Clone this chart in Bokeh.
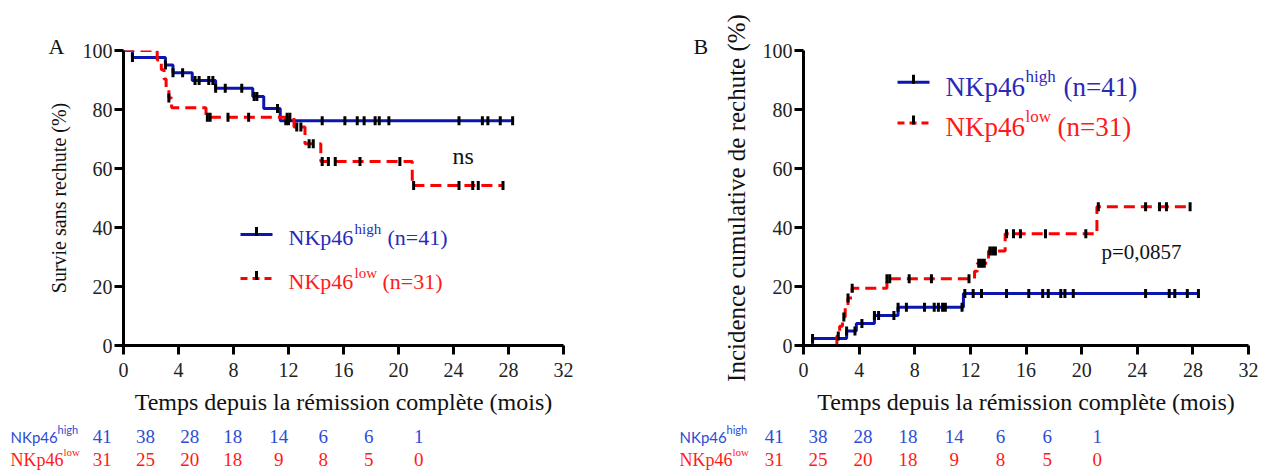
import numpy as np
from bokeh.plotting import figure
from bokeh.models import Range1d, FixedTicker, Label, Title
from bokeh.layouts import row, column
from bokeh.embed import file_html
from bokeh.resources import INLINE
from bokeh.core.properties import value

# ---------------- data ----------------
x_ticks = [0, 4, 8, 12, 16, 20, 24, 28, 32]
y_ticks = [0, 20, 40, 60, 80, 100]

# Panel A : relapse-free survival (%)
a_high_t = [0.65, 3.05, 3.6, 5.0, 6.7, 9.4, 10.2, 11.4]
a_high_v = [97.6, 95.1, 92.5, 89.8, 87.2, 84.4, 80.3, 76.2]
a_high_end = 28.3
a_high_cens = [0.65, 3.05, 3.6, 4.3, 5.2, 5.5, 6.2, 6.5, 6.7, 7.4, 8.6, 9.5, 9.7,
               11.2, 11.8, 12.0, 14.45, 16.1, 17.0, 17.5, 18.3, 18.6, 19.3,
               24.4, 26.1, 26.5, 27.4, 28.3]

a_low_t = [2.45, 2.75, 2.95, 3.1, 3.3, 3.5, 6.0, 12.4, 13.2, 14.35, 21.0]
a_low_v = [96.8, 93.5, 90.3, 87.1, 83.9, 80.6, 77.4, 74.1, 68.4, 62.4, 54.2]
a_low_end = 27.6
a_low_cens = [3.3, 6.1, 6.3, 7.6, 9.1, 11.9, 12.1, 12.6, 12.9, 13.5, 13.8,
              14.45, 14.9, 15.4, 17.2, 20.1, 21.1, 24.4, 25.4, 25.8, 27.6]

# Panel B : cumulative incidence of relapse (%)
b_high_t = [0.65, 3.1, 3.8, 5.1, 6.8, 11.5]
b_high_v = [2.4, 4.9, 7.5, 10.2, 13.0, 17.6]
b_high_end = 28.4
b_high_cens = [0.65, 3.1, 3.7, 4.2, 5.1, 5.4, 6.5, 6.8, 7.4, 8.7, 9.4, 9.7, 10.0,
               10.2, 11.4, 11.6, 12.2, 12.8, 14.6, 16.2, 17.2, 17.6, 18.5, 18.8,
               19.4, 24.6, 26.3, 26.7, 27.6, 28.4]

b_low_t = [2.4, 2.6, 2.8, 3.0, 3.2, 3.5, 6.0, 12.3, 12.5, 13.3, 14.5, 21.1]
b_low_v = [3.2, 6.5, 9.7, 12.9, 16.1, 19.4, 22.6, 25.2, 27.9, 32.0, 37.9, 47.0]
b_low_end = 27.8
b_low_cens = [2.5, 2.9, 3.2, 3.5, 6.0, 6.2, 7.6, 9.2, 11.9, 12.6, 12.8, 13.0,
              13.4, 13.6, 13.8, 14.6, 15.1, 15.6, 17.4, 20.3, 21.2, 24.6, 25.6,
              26.1, 27.8]

risk_high = [41, 38, 28, 18, 14, 6, 6, 1]
risk_low = [31, 25, 20, 18, 9, 8, 5, 0]

# ---------------- style ----------------
SERIF = "Liberation Serif"
BLUE = "#0b16b0"
RED = "#ff0000"
BLUE_TXT = "#2a2ab8"
RED_TXT = "#ff1a1a"
RISK_BLUE = "#2b4cd6"
DASH = "11 6"
PANEL_H = 418
TABLE_H = 53
TXT_DY = 7  # rendered text sits this many px lower than its anchor


def step_xy(t, v, start, end):
    xs = [0.0] + list(t) + [end]
    ys = [start] + list(v) + [v[-1]]
    return xs, ys


def cens_y(t, v, start, cens):
    tt = np.asarray(t)
    vals = np.asarray([start] + list(v))
    idx = np.searchsorted(tt, np.asarray(cens), side="right")
    return vals[idx]


def make_panel(width, left, right, top, bottom, ylabel, ylabel_size, xlabel_size,
               letter, letter_offset):
    p = figure(width=width, height=PANEL_H, x_range=Range1d(0, 32), y_range=Range1d(0, 100),
               output_backend="svg", toolbar_location=None,
               min_border_left=left, min_border_right=right,
               min_border_top=top, min_border_bottom=bottom)
    p.outline_line_color = None
    p.grid.visible = False
    p.background_fill_color = "white"
    p.border_fill_color = "white"
    p.xaxis.ticker = FixedTicker(ticks=x_ticks)
    p.yaxis.ticker = FixedTicker(ticks=y_ticks)
    for ax in (p.xaxis[0], p.yaxis[0]):
        ax.axis_line_width = 3
        ax.axis_line_color = "black"
        ax.major_tick_line_width = 3
        ax.major_tick_line_color = "black"
        ax.major_tick_out = 9
        ax.major_tick_in = 0
        ax.minor_tick_line_color = None
        ax.major_label_text_font = SERIF
        ax.major_label_text_font_size = "20px"
        ax.major_label_text_color = "#222222"
        ax.axis_label_text_font = SERIF
        ax.axis_label_text_font_style = "normal"
        ax.axis_label_text_color = "#111111"
    p.yaxis.major_label_standoff = 2
    p.xaxis.major_label_standoff = 8
    p.xaxis.axis_label = "Temps depuis la rémission complète (mois)"
    p.xaxis.axis_label_text_font_size = xlabel_size
    p.xaxis.axis_label_standoff = 9
    p.yaxis.axis_label = ylabel
    p.yaxis.axis_label_text_font_size = ylabel_size
    p.yaxis.axis_label_standoff = 10
    p.add_layout(Title(text=letter, align="left", offset=letter_offset,
                       vertical_align="bottom", standoff=-16,
                       text_font=SERIF, text_font_size="22px",
                       text_font_style="normal", text_color="#111111"), "above")
    return p


def draw_curve(p, t, v, start, end, cens, color, dash):
    xs, ys = step_xy(t, v, start, end)
    if dash:
        p.step(xs, ys, mode="after", line_width=3, line_color=color, line_dash=dash)
    else:
        p.step(xs, ys, mode="after", line_width=3, line_color=color)
    p.scatter(cens, cens_y(t, v, start, cens), marker="dash", angle=np.pi / 2,
              size=9, line_width=3, line_color="black")


def txt(p, conv, px, py, text, size, color, font=SERIF, align="left"):
    x, y = conv(px, py - TXT_DY)
    p.add_layout(Label(x=x, y=y, text=text, text_font=font, text_font_size=size,
                       text_color=color, text_align=align, text_baseline="alphabetic"))


def legend_sample(p, conv, x0, x1, py, color, dash):
    xa, ya = conv(x0, py)
    xb, _ = conv(x1, py)
    xm, _ = conv((x0 + x1) / 2.0, py)
    if dash:
        p.line([xa, xb], [ya, ya], line_width=3, line_color=color, line_dash="7 5")
    else:
        p.line([xa, xb], [ya, ya], line_width=3, line_color=color)
    _, yt = conv(0, py - 3)
    p.scatter([xm], [yt], marker="dash", angle=np.pi / 2, size=9, line_width=3,
              line_color="black")


def make_table(width, x0, lab_x, sup_hx, sup_lx, num_x):
    t = figure(width=width, height=TABLE_H, x_range=Range1d(x0, x0 + width),
               y_range=Range1d(PANEL_H + TABLE_H, PANEL_H), output_backend="svg",
               toolbar_location=None, x_axis_location=None, y_axis_location=None,
               min_border=0, min_border_left=0, min_border_right=0,
               min_border_top=0, min_border_bottom=0)
    t.outline_line_color = None
    t.grid.visible = False
    yb, yr = 443 - TXT_DY, 466 - TXT_DY
    t.text([lab_x], [yb], text=["NKp46"], text_font=value("Lato"), text_font_size="15px",
           text_color=RISK_BLUE, text_baseline="alphabetic")
    t.text([sup_hx], [yb - 7], text=["high"], text_font=value("Lato"), text_font_size="11px",
           text_color=RISK_BLUE, text_baseline="alphabetic")
    t.text([lab_x], [yr], text=["NKp46"], text_font=value(SERIF), text_font_size="18px",
           text_color=RED_TXT, text_baseline="alphabetic")
    t.text([sup_lx], [yr - 8], text=["low"], text_font=value(SERIF), text_font_size="11px",
           text_color=RED_TXT, text_baseline="alphabetic")
    t.text(num_x, [yb] * len(num_x), text=[str(n) for n in risk_high],
           text_font=value(SERIF), text_font_size="19px", text_color=RISK_BLUE,
           text_align="center", text_baseline="alphabetic")
    t.text(num_x, [yr] * len(num_x), text=[str(n) for n in risk_low],
           text_font=value(SERIF), text_font_size="19px", text_color=RED_TXT,
           text_align="center", text_baseline="alphabetic")
    return t


# ---------------- Panel A ----------------
A_L, A_KX, A_B, A_KY = 123.0, 440.0 / 32, 345.0, 295.0 / 100


def convA(px, py):
    return (px - A_L) / A_KX, (A_B - py) / A_KY


pA = make_panel(640, 123, 77, 50, PANEL_H - 345, "Survie sans rechute (%)", "20px", "24px",
                "A", -75)
draw_curve(pA, a_high_t, a_high_v, 100.0, a_high_end, a_high_cens, BLUE, None)
draw_curve(pA, a_low_t, a_low_v, 100.0, a_low_end, a_low_cens, RED, DASH)

txt(pA, convA, 452, 162, "ns", "24px", "#111111")

legend_sample(pA, convA, 240, 272, 234, BLUE, None)
legend_sample(pA, convA, 240, 272, 278, RED, DASH)
txt(pA, convA, 288, 244, "NKp46", "22px", BLUE_TXT)
txt(pA, convA, 354, 235, "high", "15px", BLUE_TXT)
txt(pA, convA, 387, 244, "(n=41)", "22px", BLUE_TXT)
txt(pA, convA, 288, 288, "NKp46", "22px", RED_TXT)
txt(pA, convA, 354, 279, "low", "15px", RED_TXT)
txt(pA, convA, 382, 288, "(n=31)", "22px", RED_TXT)

risk_x_A = [101.7, 145.0, 189.3, 232.3, 278.3, 322.7, 368.3, 418.3]
tA = make_table(640, 0, 10, 57, 63, risk_x_A)

# ---------------- Panel B ----------------
B_L, B_KX, B_B, B_KY = 803.0, 445.0 / 32, 345.0, 297.0 / 100


def convB(px, py):
    return (px - B_L) / B_KX, (B_B - py) / B_KY


pB = make_panel(634, 163, 26, 48, PANEL_H - 345, "Incidence cumulative de rechute (%)",
                "25px", "24px", "B", -110)
draw_curve(pB, b_high_t, b_high_v, 0.0, b_high_end, b_high_cens, BLUE, None)
draw_curve(pB, b_low_t, b_low_v, 0.0, b_low_end, b_low_cens, RED, DASH)

txt(pB, convB, 1101, 258, "p=0,0857", "21px", "#111111")

legend_sample(pB, convB, 897, 929, 80, BLUE, None)
legend_sample(pB, convB, 897, 929, 121, RED, DASH)
txt(pB, convB, 945, 92, "NKp46", "27px", BLUE_TXT)
txt(pB, convB, 1025, 81, "high", "17px", BLUE_TXT)
txt(pB, convB, 1063, 92, "(n=41)", "27px", BLUE_TXT)
txt(pB, convB, 945, 132, "NKp46", "27px", RED_TXT)
txt(pB, convB, 1025, 121, "low", "17px", RED_TXT)
txt(pB, convB, 1057, 132, "(n=31)", "27px", RED_TXT)

risk_x_B = [773.7, 817.5, 862.5, 907.5, 953.8, 1000.0, 1046.7, 1096.7]
tB = make_table(634, 640, 679, 726, 732, risk_x_B)

layout = column(row(pA, pB), row(tA, tB))
open("out.html", "w").write(file_html(layout, INLINE))
